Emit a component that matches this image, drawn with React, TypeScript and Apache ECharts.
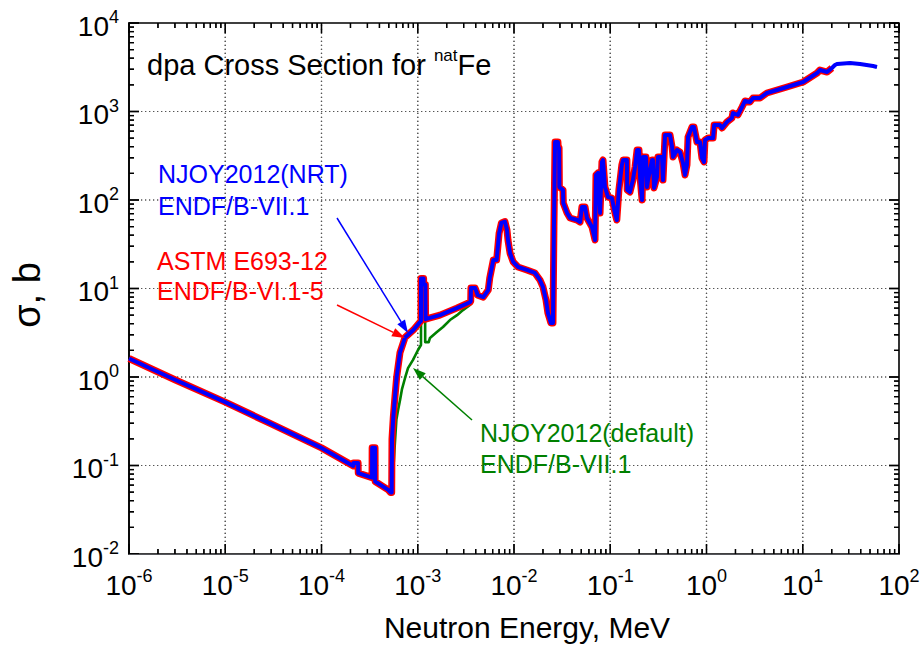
import React, { useEffect, useRef } from "react";
import * as echarts from "echarts";

const FONT = '"Liberation Sans", Arial, Helvetica, sans-serif';

// ---- data: [neutron energy (MeV), dpa cross section (barn)] ----
const thermalRegion: [number, number][] = [
  [1e-6, 1.62], [3e-6, 0.93], [1e-5, 0.52], [3e-5, 0.295], [1e-4, 0.158],
  [2.14e-4, 0.099], [2.15e-4, 0.107], [2.4e-4, 0.107], [2.41e-4, 0.082],
  [3.35e-4, 0.073], [3.36e-4, 0.159], [3.6e-4, 0.159], [3.61e-4, 0.066],
  [4.94e-4, 0.053], [5.23e-4, 0.0495],
];

const riseNRT: [number, number][] = [
  [5.36e-4, 0.0495], [5.4e-4, 0.2], [5.57e-4, 0.35], [5.8e-4, 0.6], [6.04e-4, 1.0],
  [6.54e-4, 1.89], [7.38e-4, 2.8], [9.0e-4, 3.4], [1.05e-3, 4.15], [1.08e-3, 4.3],
  [1.082e-3, 13.0], [1.15e-3, 13.0], [1.152e-3, 11.1], [1.2e-3, 11.1], [1.205e-3, 4.5],
  [1.7e-3, 5.0], [2.54e-3, 6.0], [3.49e-3, 7.0], [3.55e-3, 7.2],
];

const riseDefault: [number, number][] = [
  [5.4e-4, 0.0495], [5.5e-4, 0.07], [5.75e-4, 0.16], [6.0e-4, 0.33], [6.24e-4, 0.42],
  [6.55e-4, 0.55], [6.86e-4, 0.73], [7.38e-4, 0.975], [7.92e-4, 1.26], [8.93e-4, 1.56],
  [1.006e-3, 2.02], [1.08e-3, 2.3], [1.082e-3, 13.0], [1.15e-3, 13.0], [1.152e-3, 11.1],
  [1.19e-3, 11.1], [1.195e-3, 2.48], [1.3e-3, 2.48], [1.34e-3, 2.76], [1.58e-3, 3.22],
  [1.83e-3, 3.67], [2.16e-3, 4.4], [2.56e-3, 5.0], [2.95e-3, 5.7], [3.49e-3, 6.5],
  [3.55e-3, 7.0],
];

const resonanceRegion: [number, number][] = [
  [3.57e-3, 10.1], [3.95e-3, 10.1], [4.2e-3, 8.4], [4.8e-3, 8.0], [5.4e-3, 9.6],
  [5.6e-3, 13.2], [6.1e-3, 21], [6.6e-3, 21], [7.0e-3, 42], [7.4e-3, 55], [8.05e-3, 57],
  [8.45e-3, 46], [8.67e-3, 35], [9.1e-3, 25], [9.8e-3, 20], [1.1e-2, 17.5], [1.36e-2, 16.2],
  [1.65e-2, 15], [1.86e-2, 12.5], [2.0e-2, 10.4], [2.15e-2, 7.4], [2.25e-2, 5.3],
  [2.42e-2, 4.07], [2.54e-2, 4.07], [2.6e-2, 49.5], [2.67e-2, 452], [2.86e-2, 452],
  [2.88e-2, 387], [2.94e-2, 387], [2.96e-2, 140], [3.23e-2, 130], [3.25e-2, 92.5],
  [3.56e-2, 71.3], [3.82e-2, 62.6], [4.52e-2, 59.4], [4.86e-2, 56.4], [5.08e-2, 83.4],
  [5.47e-2, 83.4], [5.73e-2, 62.6], [6.46e-2, 49.5], [6.95e-2, 35.3], [7.11e-2, 192],
  [7.46e-2, 202], [7.83e-2, 71.3], [8.2e-2, 269], [8.41e-2, 283], [8.81e-2, 140],
  [9.48e-2, 108], [0.104, 105], [0.112, 71.3], [0.117, 59.4], [0.123, 130], [0.132, 249],
  [0.136, 283], [0.149, 283], [0.15, 130], [0.16, 123], [0.172, 168], [0.181, 236],
  [0.19, 367], [0.199, 367], [0.204, 182], [0.214, 100], [0.219, 306], [0.235, 306],
  [0.241, 140], [0.247, 168], [0.272, 283], [0.278, 283], [0.285, 137], [0.306, 182],
  [0.313, 306], [0.345, 306], [0.353, 168], [0.371, 542], [0.418, 542], [0.439, 397],
  [0.449, 306], [0.494, 367], [0.531, 348], [0.57, 262], [0.598, 192], [0.627, 249],
  [0.643, 515], [0.707, 668], [0.741, 668], [0.796, 452], [0.855, 452], [0.897, 298],
  [0.942, 269], [0.964, 477], [1.04, 502], [1.17, 502], [1.2, 703], [1.38, 703],
  [1.45, 651], [1.63, 761], [1.84, 845], [1.88, 961], [2.12, 913], [2.34, 1124],
  [2.51, 1315], [2.83, 1281], [3.04, 1422], [3.6, 1422], [4.25, 1619], [6.86, 1892],
  [10.1, 2153], [14.1, 2721], [15.1, 2943], [17.9, 2792], [20.1, 3102],
];

const highEnergyTail: [number, number][] = [
  [21.6, 3352], [22.7, 3441], [31, 3530], [39.4, 3441], [53.7, 3266], [59, 3185],
];

const X_MIN = 1e-6;
const X_MAX = 1e2;
const Y_MIN = 1e-2;
const Y_MAX = 1e4;

const xMajorTicks = [1e-6, 1e-5, 1e-4, 1e-3, 1e-2, 1e-1, 1, 10, 100];
const yMajorTicks = [1e-2, 1e-1, 1, 10, 100, 1000, 10000];

const seriesNames = [
  "NJOY2012(default) ENDF/B-VII.1",
  "ASTM E693-12 ENDF/B-VI.1-5",
  "NJOY2012(NRT) ENDF/B-VII.1",
];

function minorTicks(majors: number[]): number[] {
  const out: number[] = [];
  for (let i = 0; i < majors.length - 1; i++) {
    for (let k = 2; k <= 9; k++) out.push(Number((k * majors[i]).toPrecision(3)));
  }
  return out;
}

function arrow(from: [number, number], to: [number, number], color: string) {
  const dx = to[0] - from[0];
  const dy = to[1] - from[1];
  const len = Math.hypot(dx, dy);
  const ux = dx / len;
  const uy = dy / len;
  const L = 13;
  const W = 4.5;
  const bx = to[0] - ux * L;
  const by = to[1] - uy * L;
  return [
    {
      type: "line",
      shape: { x1: from[0], y1: from[1], x2: bx, y2: by },
      style: { stroke: color, lineWidth: 1.5 },
      z: 100,
    },
    {
      type: "polygon",
      shape: {
        points: [
          [to[0], to[1]],
          [bx - uy * W, by + ux * W],
          [bx + uy * W, by - ux * W],
        ],
      },
      style: { fill: color },
      z: 100,
    },
  ];
}

function textEl(text: string, x: number, y: number, color: string, size = 25) {
  return {
    type: "text",
    x,
    y,
    z: 100,
    style: {
      text,
      fill: color,
      fontSize: size,
      fontFamily: FONT,
      align: "left",
      verticalAlign: "middle",
    },
  };
}

function annotationGraphics(): any[] {
  return [
    {
      type: "text",
      x: 147,
      y: 65,
      z: 100,
      style: {
        text: "{a|dpa Cross Section for }{s|nat}{a|Fe}",
        align: "left",
        verticalAlign: "middle",
        rich: {
          a: { fontSize: 29, lineHeight: 36, fontFamily: FONT, fill: "#000" },
          s: { fontSize: 17, lineHeight: 17, verticalAlign: "top", fontFamily: FONT, fill: "#000" },
        },
      },
    },
    textEl("NJOY2012(NRT)", 158, 174, "#0000ff"),
    textEl("ENDF/B-VII.1", 158, 206, "#0000ff"),
    textEl("ASTM E693-12", 157, 261, "#ff0000"),
    textEl("ENDF/B-VI.1-5", 157, 291, "#ff0000"),
    textEl("NJOY2012(default)", 480, 433, "#008000"),
    textEl("ENDF/B-VII.1", 480, 464, "#008000"),
    ...arrow([337, 218], [408, 333], "#0000ff"),
    ...arrow([337, 305], [405, 338], "#ff0000"),
    ...arrow([472, 420], [413, 368], "#008000"),
  ];
}

type Seg = [number, number, number, number];

// tick and dotted-grid segments, positioned through the chart's own log scales
function frameSegments(chart: echarts.ECharts): { ticks: Seg[]; grid: Seg[] } {
  const px = (v: number) => chart.convertToPixel({ xAxisIndex: 0 }, v) as number;
  const py = (v: number) => chart.convertToPixel({ yAxisIndex: 0 }, v) as number;
  const left = px(X_MIN);
  const right = px(X_MAX);
  const bottom = py(Y_MIN);
  const top = py(Y_MAX);
  const ticks: Seg[] = [];
  const grid: Seg[] = [];
  xMajorTicks.forEach((v) => {
    const x = px(v);
    if (v > X_MIN && v < X_MAX) grid.push([x, bottom, x, top]);
    ticks.push([x, bottom, x, bottom - 10], [x, top, x, top + 10]);
  });
  minorTicks(xMajorTicks).forEach((v) => {
    const x = px(v);
    ticks.push([x, bottom, x, bottom - 5], [x, top, x, top + 5]);
  });
  yMajorTicks.forEach((v) => {
    const y = py(v);
    if (v > Y_MIN && v < Y_MAX) grid.push([left, y, right, y]);
    ticks.push([left, y, left + 10, y], [right, y, right - 10, y]);
  });
  minorTicks(yMajorTicks).forEach((v) => {
    const y = py(v);
    ticks.push([left, y, left + 5, y], [right, y, right - 5, y]);
  });
  return { ticks, grid };
}

function frameGraphics(chart: echarts.ECharts): any[] {
  const { ticks, grid } = frameSegments(chart);
  const toPath = (segs: Seg[]) =>
    segs.map((s) => `M${s[0].toFixed(2)} ${s[1].toFixed(2)}L${s[2].toFixed(2)} ${s[3].toFixed(2)}`).join("");
  const els: any[] = [];
  try {
    echarts.graphic.registerShape("dpaGridPath", echarts.graphic.extendPath(toPath(grid), {}) as any);
    echarts.graphic.registerShape("dpaTickPath", echarts.graphic.extendPath(toPath(ticks), {}) as any);
    els.push(
      { type: "dpaGridPath", x: 0, y: 0, style: { fill: "none", stroke: "#555", lineWidth: 1.2, lineDash: [1.2, 2.8] } },
      { type: "dpaTickPath", x: 0, y: 0, style: { fill: "none", stroke: "#000", lineWidth: 1.3 } }
    );
  } catch (e) {
    // fall back to plain line elements only
  }
  grid.forEach((s) =>
    els.push({ type: "line", shape: { x1: s[0], y1: s[1], x2: s[2], y2: s[3] }, style: { stroke: "#555", lineWidth: 1.2, lineDash: [1.2, 2.8] } })
  );
  ticks.forEach((s) =>
    els.push({ type: "line", shape: { x1: s[0], y1: s[1], x2: s[2], y2: s[3] }, style: { stroke: "#000", lineWidth: 1.3 } })
  );
  return els;
}

function buildOption() {
  const red = [...thermalRegion, ...riseNRT, ...resonanceRegion];
  const blue = [...red, ...highEnergyTail];
  const green = [...thermalRegion, ...riseDefault, ...resonanceRegion, ...highEnergyTail];

  const supFormatter = (v: number) => `{b|10}{s|${Math.round(Math.log10(v))}}`;
  const rich = {
    b: { fontSize: 28, lineHeight: 36, fontFamily: FONT, color: "#000" },
    s: { fontSize: 18, lineHeight: 18, verticalAlign: "top", fontFamily: FONT, color: "#000" },
  };

  const lineSeries = (name: string, data: [number, number][], color: string, width: number) => ({
    type: "line",
    name,
    data,
    showSymbol: false,
    lineStyle: { color, width, join: "round" },
    itemStyle: { color },
  });

  return {
    animation: false,
    grid: {
      left: 129,
      right: 25,
      top: 23,
      bottom: 94,
      show: true,
      borderColor: "#000",
      borderWidth: 1.6,
      backgroundColor: "transparent",
    },
    xAxis: {
      type: "log",
      min: X_MIN,
      max: X_MAX,
      axisTick: { show: false },
      splitLine: { show: false },
      axisLabel: { margin: 13, formatter: supFormatter, rich },
      name: "Neutron Energy, MeV",
      nameLocation: "middle",
      nameGap: 58,
      nameTextStyle: { fontSize: 30, fontFamily: FONT, color: "#000", padding: [0, 0, 0, 26] },
    },
    yAxis: {
      type: "log",
      min: Y_MIN,
      max: Y_MAX,
      axisLine: { show: true, lineStyle: { color: "#000", width: 1.6 } },
      axisTick: { show: false },
      splitLine: { show: false },
      axisLabel: { margin: 10, formatter: supFormatter, rich, padding: [6, 0, 0, 0] },
      name: "σ, b",
      nameLocation: "middle",
      nameGap: 83,
      nameTextStyle: { fontSize: 38, fontFamily: FONT, color: "#000", padding: [0, 13, 0, 0] },
    },
    series: [
      lineSeries(seriesNames[0], green, "#008000", 2.6),
      lineSeries(seriesNames[1], red, "#ff0000", 7),
      lineSeries(seriesNames[2], blue, "#0000ff", 4),
    ],
  };
}

export default function App() {
  const ref = useRef<HTMLDivElement>(null);
  useEffect(() => {
    document.body.style.margin = "0";
    if (!ref.current) return;
    const chart = echarts.init(ref.current, null, { renderer: "svg" });
    chart.setOption(buildOption() as any);
    chart.setOption({ graphic: { elements: [...frameGraphics(chart), ...annotationGraphics()] } } as any);
    return () => chart.dispose();
  }, []);
  return <div ref={ref} style={{ width: 924, height: 648 }} />;
}
